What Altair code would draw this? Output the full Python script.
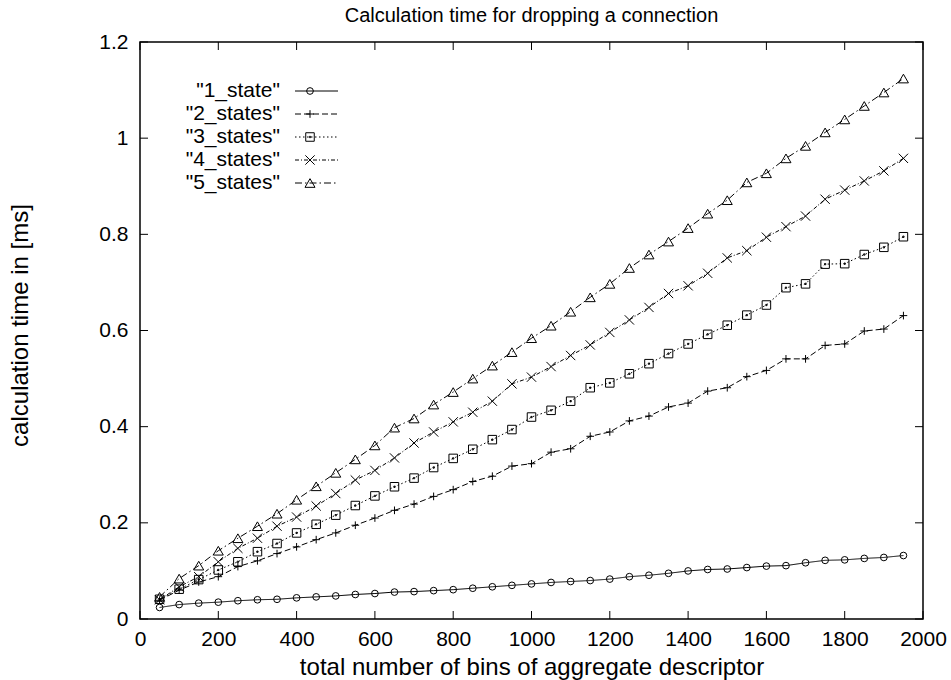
import altair as alt
import pandas as pd

FONT = "Liberation Sans"

x_vals = list(range(50, 2000, 50))  # 50 .. 1950

s1 = [0.024, 0.030, 0.033, 0.035, 0.038, 0.040, 0.041, 0.044, 0.046, 0.048,
      0.051, 0.053, 0.056, 0.057, 0.059, 0.061, 0.064, 0.067, 0.070, 0.073,
      0.076, 0.078, 0.080, 0.083, 0.088, 0.091, 0.095, 0.100, 0.103, 0.104,
      0.107, 0.110, 0.111, 0.117, 0.122, 0.123, 0.126, 0.128, 0.132]
s2 = [0.039, 0.060, 0.077, 0.088, 0.109, 0.121, 0.136, 0.150, 0.165, 0.179,
      0.195, 0.210, 0.226, 0.239, 0.255, 0.269, 0.286, 0.297, 0.318, 0.323,
      0.347, 0.354, 0.380, 0.389, 0.412, 0.422, 0.441, 0.449, 0.474, 0.481,
      0.504, 0.517, 0.541, 0.541, 0.569, 0.572, 0.599, 0.603, 0.631]
s3 = [0.041, 0.062, 0.082, 0.102, 0.119, 0.140, 0.157, 0.179, 0.197, 0.216,
      0.236, 0.256, 0.275, 0.293, 0.315, 0.334, 0.353, 0.373, 0.394, 0.420,
      0.434, 0.453, 0.481, 0.491, 0.510, 0.531, 0.552, 0.572, 0.592, 0.611,
      0.632, 0.653, 0.689, 0.697, 0.738, 0.739, 0.758, 0.773, 0.795]
s4 = [0.040, 0.067, 0.088, 0.119, 0.147, 0.168, 0.193, 0.212, 0.235, 0.261,
      0.289, 0.309, 0.335, 0.366, 0.389, 0.410, 0.430, 0.453, 0.489, 0.503,
      0.525, 0.548, 0.570, 0.596, 0.622, 0.648, 0.677, 0.693, 0.719, 0.751,
      0.766, 0.794, 0.816, 0.838, 0.873, 0.892, 0.911, 0.932, 0.958]
s5 = [0.046, 0.084, 0.111, 0.142, 0.168, 0.193, 0.219, 0.248, 0.276, 0.304,
      0.332, 0.361, 0.398, 0.417, 0.446, 0.472, 0.500, 0.527, 0.555, 0.584,
      0.610, 0.639, 0.669, 0.697, 0.730, 0.758, 0.785, 0.813, 0.843, 0.871,
      0.908, 0.927, 0.958, 0.984, 1.012, 1.039, 1.067, 1.095, 1.124]

series_names = ['"1_state"', '"2_states"', '"3_states"', '"4_states"', '"5_states"']
x_ticks = [0, 200, 400, 600, 800, 1000, 1200, 1400, 1600, 1800, 2000]
y_ticks = [0, 0.2, 0.4, 0.6, 0.8, 1.0, 1.2]

rows = []
for name, vals in zip(series_names, [s1, s2, s3, s4, s5]):
    for xv, yv in zip(x_vals, vals):
        rows.append({"series": name, "bins": xv, "time": yv})
df = pd.DataFrame(rows)

W, H = 783, 577

xscale = alt.Scale(domain=[0, 2000], nice=False, zero=False)
yscale = alt.Scale(domain=[0, 1.2], nice=False, zero=False)

dash_scale = alt.Scale(domain=series_names,
                       range=[[1, 0], [6, 3], [1.5, 2.5], [4, 2, 1, 2], [7, 3, 1.5, 3]])
square_dot = "M-1,-1L1,-1L1,1L-1,1Z M-0.15,-0.15L0.15,-0.15L0.15,0.15L-0.15,0.15Z"
shape_scale = alt.Scale(domain=series_names,
                        range=["circle", "M-1,0L1,0M0,-1L0,1", square_dot,
                               "M-1,-1L1,1M-1,1L1,-1", "triangle-up"])
size_scale = alt.Scale(domain=series_names, range=[45, 100, 75, 85, 75])

xaxis = alt.Axis(values=x_ticks, ticks=False, domain=False, grid=False, format="d",
                 labelFlush=False, labelPadding=9,
                 title="total number of bins of aggregate descriptor",
                 titleY=48, titleBaseline="middle", titleFontSize=24)
yaxis = alt.Axis(values=y_ticks, ticks=False, domain=False, grid=False, format="~g",
                 labelFlush=False, labelPadding=12, title="calculation time in [ms]",
                 titleX=-120, titleY=283, titleBaseline="middle", titleAngle=-90,
                 titleFontSize=24)

X = lambda: alt.X("bins:Q", scale=xscale, axis=xaxis)
Y = lambda: alt.Y("time:Q", scale=yscale, axis=yaxis)

base = alt.Chart(df).encode(x=X(), y=Y())

lines = base.mark_line(color="black", strokeWidth=1).encode(
    strokeDash=alt.StrokeDash("series:N", scale=dash_scale, legend=None),
    detail="series:N",
)
points = base.mark_point(color="black", filled=False, strokeWidth=1, opacity=1).encode(
    shape=alt.Shape("series:N", scale=shape_scale, legend=None),
    size=alt.Size("series:N", scale=size_scale, legend=None),
)

# inward ticks
xt = pd.DataFrame({"bins": x_ticks})
yt = pd.DataFrame({"time": y_ticks})
tick_b = alt.Chart(xt).mark_rule(color="black", strokeWidth=1).encode(
    x=X(), y=alt.value(H), y2=alt.value(H - 8))
tick_t = alt.Chart(xt).mark_rule(color="black", strokeWidth=1).encode(
    x=X(), y=alt.value(0), y2=alt.value(8))
tick_l = alt.Chart(yt).mark_rule(color="black", strokeWidth=1).encode(
    y=Y(), x=alt.value(0), x2=alt.value(8))
tick_r = alt.Chart(yt).mark_rule(color="black", strokeWidth=1).encode(
    y=Y(), x=alt.value(W - 8), x2=alt.value(W))

# legend inside plot (labels left, samples right); pixel layout converted to data units
leg_df = pd.DataFrame({"series": series_names, "idx": list(range(len(series_names)))})
leg = alt.Chart(leg_df).transform_calculate(
    time=f"1.2 * (1 - (49 + 23 * datum.idx) / {H})",
    lab_x=f"140 / {W} * 2000",
    r_x1=f"155 / {W} * 2000",
    r_x2=f"198 / {W} * 2000",
    p_x=f"170 / {W} * 2000",
)
leg_text = leg.mark_text(align="right", baseline="middle", fontSize=21, font=FONT,
                         color="black").encode(
    x=alt.X("lab_x:Q", scale=xscale, axis=xaxis), y=Y(), text="series:N")
leg_rule = leg.mark_rule(color="black", strokeWidth=1).encode(
    x=alt.X("r_x1:Q", scale=xscale, axis=xaxis), x2="r_x2:Q", y=Y(),
    strokeDash=alt.StrokeDash("series:N", scale=dash_scale, legend=None))
leg_pt = leg.mark_point(color="black", filled=False, strokeWidth=1, opacity=1).encode(
    x=alt.X("p_x:Q", scale=xscale, axis=xaxis), y=Y(),
    shape=alt.Shape("series:N", scale=shape_scale, legend=None),
    size=alt.Size("series:N", scale=size_scale, legend=None))

chart = alt.layer(
    lines, points, tick_b, tick_t, tick_l, tick_r, leg_rule, leg_pt, leg_text
).properties(
    width=W, height=H,
    title=alt.TitleParams("Calculation time for dropping a connection",
                          fontSize=20, font=FONT, fontWeight="normal", color="black",
                          anchor="middle", frame="group", offset=5),
    padding={"left": 140, "top": 42, "right": 951 - 140 - W, "bottom": 680 - 42 - H},
    autosize=alt.AutoSizeParams(type="none"),
    background="white",
).configure_view(
    stroke="black", strokeWidth=1.5
).configure_axis(
    labelFont=FONT, labelFontSize=21, labelColor="black",
    titleFont=FONT, titleFontWeight="normal", titleColor="black",
)

chart.save("out.html", embed_options={"renderer": "svg", "actions": False})
